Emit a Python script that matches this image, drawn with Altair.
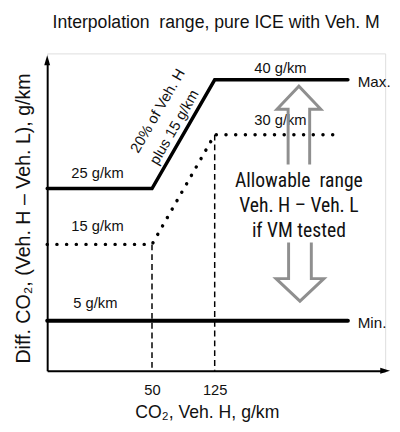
import altair as alt
import pandas as pd

# ---------------- data ----------------
max_x = [0, 50, 125, 200]
max_y = [25, 25, 40, 40]
lim_x = [0, 50, 125, 195]
lim_y = [15, 15, 30, 30]
min_x = [0, 200]
min_y = [5, 5]
vline_x = [50, 125]
vline_y = [15, 30]
tick_values = [50, 125]

label_text = ["40 g/km", "30 g/km", "25 g/km", "15 g/km", "5 g/km"]
label_x = [162, 162, 24, 24, 23]
label_y = [40, 30, 25, 15, 5]
label_dy = [-7, -10, -11, -14, -13]

end_text = ["Max.", "Min."]
end_y = [40, 5]

slope_text = ["20% of Veh. H", "plus 15 g/km"]
slope_dx = [8, 2]
slope_dy = [-35, -12]

REG = "Liberation Sans, Arial, sans-serif"
NAR = "Liberation Sans Narrow, Arial Narrow, Roboto Condensed, DejaVu Sans Condensed, sans-serif"

xs = alt.Scale(domain=[0, 50, 125, 200, 235], range=[0, 107, 171, 307, 345], nice=False, zero=False)
ys = alt.Scale(domain=[0, 5, 15, 25, 30, 40, 45], range=[324, 273, 195, 138, 83, 27, 7], nice=False, zero=False)

xaxis = alt.Axis(values=tick_values, ticks=False, grid=False, domainColor="black", domainWidth=2,
                 labelFontSize=15, labelFont=REG, labelColor="#111", labelPadding=12, labelFlush=False,
                 title="CO₂, Veh. H, g/km", titleFont=REG, titleFontSize=18, titleFontWeight="normal",
                 titleColor="#111", titlePadding=7, titleX=163)
yaxis = alt.Axis(ticks=False, labels=False, grid=False, domainColor="black", domainWidth=2,
                 title="Diff. CO₂, (Veh. H – Veh. L), g/km", titleFont=REG, titleFontSize=20,
                 titleFontWeight="normal", titleColor="#111", titlePadding=14, titleY=168)

X = lambda f="x": alt.X(f"{f}:Q", scale=xs, axis=xaxis)
Y = lambda f="y": alt.Y(f"{f}:Q", scale=ys, axis=yaxis)

layers = []

max_df = pd.DataFrame({"x": max_x, "y": max_y})
layers.append(alt.Chart(max_df).mark_line(color="black", strokeWidth=3.5, strokeCap="round", strokeJoin="miter")
              .encode(x=X(), y=Y()))

lim_df = pd.DataFrame({"x": lim_x, "y": lim_y})
layers.append(alt.Chart(lim_df).mark_line(color="black", strokeWidth=3.5, strokeCap="round", strokeDash=[0.1, 9.8])
              .encode(x=X(), y=Y()))

min_df = pd.DataFrame({"x": min_x, "y": min_y})
layers.append(alt.Chart(min_df).mark_line(color="black", strokeWidth=4, strokeCap="round")
              .encode(x=X(), y=Y()))

vl_df = pd.DataFrame({"x": vline_x, "y": vline_y, "y0": [0, 0]})
layers.append(alt.Chart(vl_df).mark_rule(color="black", strokeWidth=1.5, strokeDash=[6, 4])
              .encode(x=X(), y=Y(), y2="y0:Q"))

# axis arrow heads
ah_df = pd.DataFrame({"x": [235], "y": [0]})
layers.append(alt.Chart(ah_df).mark_point(shape="M1,0 L-1,-0.6 L-1,0.6 Z", filled=True, color="black",
                                          size=100, opacity=1).encode(x=X(), y=Y()))
av_df = pd.DataFrame({"x": [0], "y": [45]})
layers.append(alt.Chart(av_df).mark_point(shape="M0,-1 L0.6,1 L-0.6,1 Z", filled=True, color="black",
                                          size=100, opacity=1).encode(x=X(), y=Y()))

# value labels
for t, lx, ly, d in zip(label_text, label_x, label_y, label_dy):
    df = pd.DataFrame({"x": [lx], "y": [ly], "t": [t]})
    layers.append(alt.Chart(df).mark_text(font=REG, fontSize=15, color="#111", align="center",
                                          baseline="alphabetic", dy=d)
                  .encode(x=X(), y=Y(), text="t:N"))

end_df = pd.DataFrame({"x": [200, 200], "y": end_y, "t": end_text})
layers.append(alt.Chart(end_df).mark_text(font=REG, fontSize=15.5, color="#111", align="left",
                                          baseline="middle", dx=10, dy=2)
              .encode(x=X(), y=Y(), text="t:N"))

# slope annotation
for t, ddx, ddy in zip(slope_text, slope_dx, slope_dy):
    df = pd.DataFrame({"x": [87.5], "y": [30], "t": [t]})
    layers.append(alt.Chart(df).mark_text(font=REG, fontSize=15, color="#111", align="center",
                                          baseline="middle", angle=300, dx=ddx, dy=ddy)
                  .encode(x=X(), y=Y(), text="t:N"))

# allowable range arrows
up_df = pd.DataFrame({"x": [172.4], "y": [31.7]})
layers.append(alt.Chart(up_df).mark_point(
    shape="M-0.275,1 L-0.275,-0.41 L-0.56,-0.41 L0,-1 L0.56,-0.41 L0.275,-0.41 L0.275,1",
    filled=False, color="#8f8f8f", strokeWidth=3, size=6400, opacity=1).encode(x=X(), y=Y()))
dn_df = pd.DataFrame({"x": [173], "y": [12.7]})
layers.append(alt.Chart(dn_df).mark_point(
    shape="M-0.29,-0.5 L-0.29,0.425 L-0.61,0.425 L0,1 L0.61,0.425 L0.29,0.425 L0.29,-0.5",
    filled=False, color="#8f8f8f", strokeWidth=3, size=6400, opacity=1).encode(x=X(), y=Y()))

allow_df = pd.DataFrame({"x": [172.4], "y": [25], "t": ["Allowable\u00a0 range\nVeh. H – Veh. L\nif VM tested"]})
layers.append(alt.Chart(allow_df).mark_text(font=NAR, fontSize=20, color="#111", align="center",
                                            baseline="alphabetic", dy=-2, lineBreak="\n", lineHeight=25.5)
              .encode(x=X(), y=Y(), text="t:N"))

chart = alt.layer(*layers).properties(
    width=345, height=324,
    title=alt.TitleParams("Interpolation\u00a0 range, pure ICE with Veh. M", font=REG, fontSize=18,
                          fontWeight="normal", color="#111", anchor="middle", baseline="alphabetic",
                          offset=8, frame="group"),
    autosize=alt.AutoSizeParams(type="none"),
    padding={"left": 40, "top": 42, "right": 7, "bottom": 50},
).configure_view(stroke=None).configure(background="white")

chart.save("out.html", embed_options={"renderer": "svg", "actions": False})
